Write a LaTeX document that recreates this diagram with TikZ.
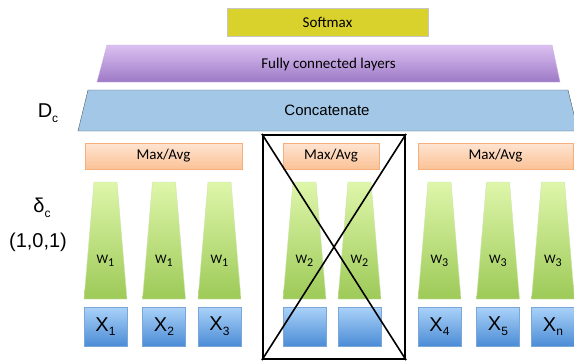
\documentclass[tikz,border=0pt]{standalone}
\usepackage{fontspec}
\setmainfont{Carlito}
\newfontfamily\arialfont{Liberation Sans}
\usepackage{xcolor}
\definecolor{softYel}{HTML}{DAD22C}
\definecolor{fcTop}{HTML}{DBC0F1}
\definecolor{fcBot}{HTML}{9D7AC6}
\definecolor{catFill}{HTML}{A3C8E7}
\definecolor{catLine}{HTML}{4F5B66}
\definecolor{poolTop}{HTML}{FEE4D2}
\definecolor{poolBot}{HTML}{FBC296}
\definecolor{poolLine}{HTML}{F5AE7C}
\definecolor{grTop}{HTML}{DEF6AA}
\definecolor{grBot}{HTML}{9DCA58}
\definecolor{inTop}{HTML}{AAD2F9}
\definecolor{inBot}{HTML}{4B8CD6}
\definecolor{inLine}{HTML}{7AA6D8}
\newcommand{\lowidx}[1]{\raisebox{-0.45ex}{\fontsize{12}{12}\selectfont #1}}

\begin{document}
\begin{tikzpicture}[x=1pt, y=-1pt, font=\fontsize{15}{17}\selectfont,
  softbox/.style={draw=gray!45, fill=softYel, minimum width=201pt, minimum height=28pt, inner sep=0pt},
  fcbox/.style={draw=fcTop!70!fcBot, top color=fcTop, bottom color=fcBot},
  catbox/.style={draw=catLine, fill=catFill},
  poolbox/.style={draw=poolLine, top color=poolTop, bottom color=poolBot, minimum height=26pt, inner sep=0pt},
  wbox/.style={draw=grBot!50, top color=grTop, bottom color=grBot},
  xbox/.style={draw=inLine, top color=inTop, bottom color=inBot, minimum width=43pt, minimum height=39pt,
    inner sep=0pt, font=\arialfont\fontsize{20}{22}\selectfont},
  side/.style={font=\arialfont\fontsize{20}{22}\selectfont}]
\useasboundingbox (0,0) rectangle (574,360);
\clip (0,0) rectangle (574,360);
% --- top layers ---
\node[softbox] (soft) at (327.5,22) {Softmax};
\draw[fcbox] (107,45) -- (552,45) -- (560,82) -- (97,82) -- cycle;
\node (fc) at (328.5,64) {Fully connected layers};
\draw[catbox] (88,90) -- (568,90) -- (578,131) -- (78,131) -- cycle;
\node (cat) at (327,110.5) {\arialfont Concatenate};
\node[side] (dc) at (48,113) {D\lowidx{c}};
% --- pooling per group ---
\node[poolbox, minimum width=157pt] (pool1) at (163.5,156) {Max/Avg};
\node[poolbox, minimum width=96pt] (pool2) at (331,156) {Max/Avg};
\node[poolbox, minimum width=155pt] (pool3) at (495.5,156) {Max/Avg};
% --- branches and inputs ---
\foreach \x/\w/\t [count=\i] in {105.5/1/X\lowidx{1}, 164/1/X\lowidx{2}, 219.5/1/X\lowidx{3},
    304.5/2/, 359.5/2/, 439.5/3/X\lowidx{4}, 498/3/X\lowidx{5}, 553/3/X\lowidx{n}} {
  \draw[wbox] (\x-11.5,182) -- (\x+11.5,182) -- (\x+21.5,299) -- (\x-21.5,299) -- cycle;
  \node[font=\fontsize{13}{14}\selectfont] (w\i) at (\x,261) {W\lowidx{\w}};
  \node[xbox] (x\i) at (\x,326.5) {\t};
}
\node[side] (delta) at (42,208) {δ\lowidx{c}};
\node[side] (mask) at (38,242) {(1,0,1)};
% --- dropped group ---
\node[draw, line width=2.2pt, minimum width=142pt, minimum height=224pt, inner sep=0pt] (drop) at (334,247) {};
\draw[line width=1.6pt] (drop.north west) -- (drop.south east);
\draw[line width=1.6pt] (drop.north east) -- (drop.south west);
\end{tikzpicture}
\end{document}
